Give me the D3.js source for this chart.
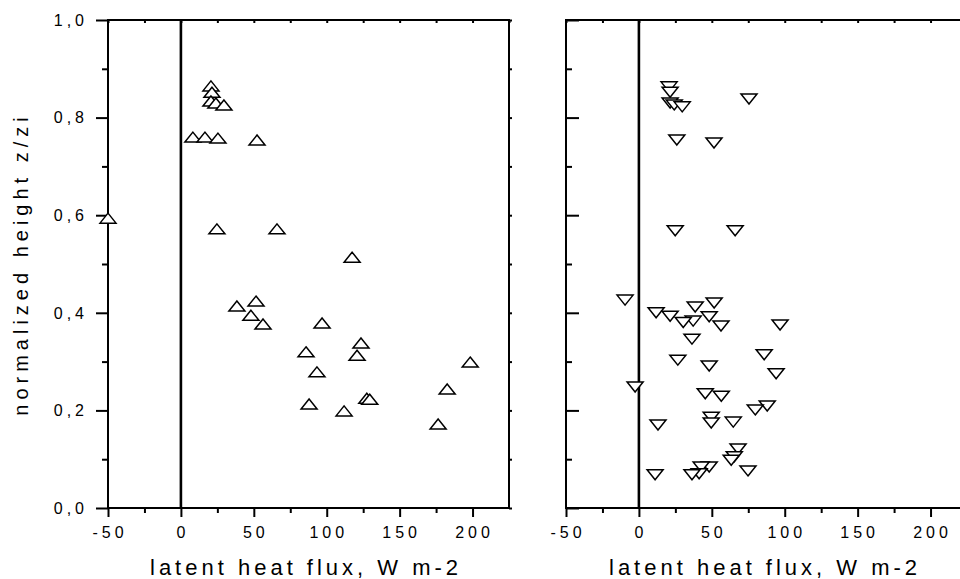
<!DOCTYPE html>
<html>
<head>
<meta charset="utf-8">
<script src="https://cdn.jsdelivr.net/npm/d3@7"></script>
<style>
  html, body { margin: 0; padding: 0; background: #fff; }
  svg { display: block; font-family: "Liberation Sans", Arial, sans-serif; }
</style>
</head>
<body>
<svg id="chart" width="960" height="579"></svg>
<script>
// Latent heat flux (W m-2) against normalized height z/zi, two flight groups
const leftFlux = [-50, 20.6, 21.3, 20.6, 24, 29.5, 8.2, 16.5, 25.4, 52.2, 24.7, 65.9, 117.4,
  38.4, 51.5, 48, 56.3, 96.8, 85.8, 123.5, 120.8, 93.3, 198.4, 182.6, 87.9, 111.9, 127.5, 129.5, 176.4];
const leftHeight = [0.594, 0.865, 0.852, 0.834, 0.830, 0.826, 0.760, 0.760, 0.758, 0.754, 0.572, 0.572, 0.514,
  0.414, 0.424, 0.395, 0.377, 0.379, 0.320, 0.338, 0.313, 0.279, 0.299, 0.244, 0.213, 0.199, 0.225, 0.223, 0.172];

const rightFlux = [20.7, 21.4, 21.4, 24.2, 29.7, 75.5, 26.0, 51.5, 24.9, 66.0,
  -9.5, 11.8, 21.4, 38.6, 51.6, 48.2, 37.2, 30.4, 56.3, 96.8, 36.4, 85.9, 26.7, 48.2, 94.1,
  -2.6, 45.5, 56.5, 88.0, 79.8, 49.6, 49.6, 64.7, 13.1, 68.0, 65.4, 63.3, 48.2, 42.7, 41.3, 36.4, 74.8, 11.1];
const rightHeight = [0.863, 0.852, 0.830, 0.826, 0.822, 0.838, 0.754, 0.748, 0.568, 0.568,
  0.426, 0.400, 0.393, 0.412, 0.420, 0.392, 0.383, 0.380, 0.373, 0.375, 0.346, 0.314, 0.303, 0.291, 0.275,
  0.248, 0.234, 0.229, 0.209, 0.201, 0.186, 0.174, 0.176, 0.170, 0.121, 0.105, 0.098, 0.084, 0.084, 0.070, 0.068, 0.076, 0.068];

const xMajor = [-50, 0, 50, 100, 150, 200];
const xMinor = [-25, 25, 75, 125, 175, 225];
const xTickLabels = ["-50", "0", "50", "100", "150", "200"];
const yMajor = [0, 0.2, 0.4, 0.6, 0.8, 1.0];
const yMinor = [0.1, 0.3, 0.5, 0.7, 0.9];
const yTickLabels = ["0,0", "0,2", "0,4", "0,6", "0,8", "1,0"];

const xTitle = "latent heat flux, W m-2";
const yTitle = "normalized height z/zi";

const svg = d3.select("#chart");
const y = d3.scaleLinear().domain([0, 1]).range([508, 20]);

// Open triangle symbols, wider than tall
function triangle(up) {
  return {
    draw(ctx, size) {
      const w = 16, h = 10, s = up ? 1 : -1;
      ctx.moveTo(0, -s * h / 2);
      ctx.lineTo(w / 2, s * h / 2);
      ctx.lineTo(-w / 2, s * h / 2);
      ctx.closePath();
    }
  };
}

function panel(opts) {
  const x = d3.scaleLinear().domain([-50, 225]).range(opts.range);
  const g = svg.append("g");
  const [x0, x1] = opts.range;
  const [yb, yt] = y.range();

  // tick helper built on d3 axes
  function ticks(axisFn, scale, values, size, transform) {
    g.append("g")
      .attr("transform", transform)
      .call(axisFn(scale).tickValues(values).tickSize(size).tickFormat(""))
      .call(s => s.select(".domain").remove())
      .call(s => s.selectAll("line").attr("stroke", "#000").attr("stroke-width", 2));
  }

  // bottom: outward ticks
  ticks(d3.axisBottom, x, xMajor, 9, `translate(0,${yb})`);
  ticks(d3.axisBottom, x, xMinor.filter(v => v < 225), 5, `translate(0,${yb})`);
  // top: short inward ticks
  ticks(d3.axisBottom, x, xMajor.concat(xMinor), 3, `translate(0,${yt})`);

  if (opts.labels) {
    // left axis: outward ticks with labels
    ticks(d3.axisLeft, y, yMajor, 12, `translate(${x0},0)`);
    ticks(d3.axisLeft, y, yMinor, 6, `translate(${x0},0)`);
    g.append("g").selectAll("text").data(yMajor).join("text")
      .attr("x", 84 + 4).attr("y", d => y(d)).attr("dy", "0.36em")
      .attr("text-anchor", "end")
      .attr("font-size", 16).attr("letter-spacing", 4)
      .text((d, i) => yTickLabels[i]);
  } else {
    // left axis: inward ticks, no labels
    ticks(d3.axisRight, y, yMajor, 13, `translate(${x0},0)`);
    ticks(d3.axisRight, y, yMinor, 6, `translate(${x0},0)`);
  }
  // right edge: tiny outward ticks
  ticks(d3.axisRight, y, yMajor.concat(yMinor), 3, `translate(${x1},0)`);

  // x tick labels
  g.append("g").selectAll("text").data(xMajor).join("text")
    .attr("x", d => x(d) + 2).attr("y", 538)
    .attr("text-anchor", "middle")
    .attr("font-size", 16).attr("letter-spacing", 4)
    .text((d, i) => xTickLabels[i]);

  // frame
  g.append("rect")
    .attr("x", x0).attr("y", yt).attr("width", x1 - x0).attr("height", yb - yt)
    .attr("fill", "none").attr("stroke", "#000").attr("stroke-width", 2);

  // zero-flux line
  g.append("line")
    .attr("x1", x(0)).attr("x2", x(0)).attr("y1", yt).attr("y2", yb)
    .attr("stroke", "#000").attr("stroke-width", 2.6);

  // markers
  const sym = d3.symbol().type(triangle(opts.up));
  g.append("g").selectAll("path").data(opts.flux).join("path")
    .attr("transform", (d, i) => `translate(${x(d)},${y(opts.height[i])})`)
    .attr("d", sym)
    .attr("fill", "#fff").attr("stroke", "#000").attr("stroke-width", 1.5)
    .attr("stroke-linejoin", "miter");

  // x title
  g.append("text")
    .attr("x", opts.titleX).attr("y", 575)
    .attr("font-size", 22).attr("letter-spacing", 4)
    .text(xTitle);
}

panel({ range: [108, 509], flux: leftFlux, height: leftHeight, up: true, labels: true, titleX: 150 });
panel({ range: [566, 967], flux: rightFlux, height: rightHeight, up: false, labels: false, titleX: 609 });

// y title
svg.append("text")
  .attr("transform", `translate(28,${264}) rotate(-90)`)
  .attr("text-anchor", "middle")
  .attr("font-size", 20).attr("letter-spacing", 5)
  .text(yTitle);
</script>
</body>
</html>
